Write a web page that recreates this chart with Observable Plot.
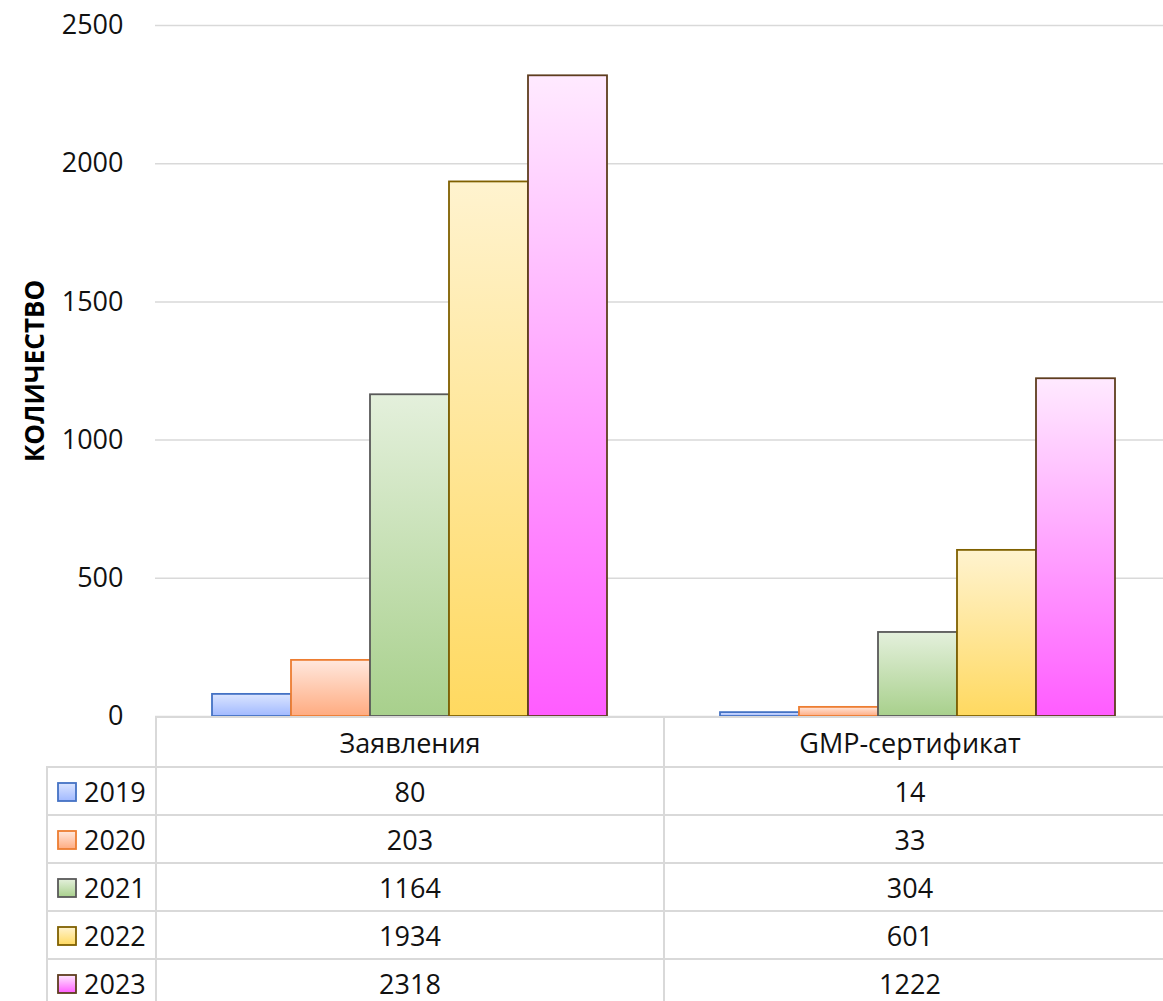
<!DOCTYPE html>
<html>
<head>
<meta charset="utf-8">
<script src="https://cdn.jsdelivr.net/npm/d3@7"></script>
<script src="https://cdn.jsdelivr.net/npm/@observablehq/plot@0.6"></script>
<style>
  html, body { margin: 0; padding: 0; background: #fff; overflow: hidden; }
  body { font-family: "Open Sans", sans-serif; width: 1163px; height: 1001px; position: relative; overflow: hidden; }
  #chart { position: absolute; left: 0; top: 0; }
  table.dt { position: absolute; left: 46px; top: 716px; border-collapse: collapse; table-layout: fixed; width: 1125px; }
  table.dt td { border: 2px solid #d9d9d9; padding: 0; text-align: center; font-size: 27px; color: #111; white-space: nowrap; }
  table.dt td.last { padding-right: 16px; }
  table.dt tr.head td { height: 48px; }
  table.dt tr.row td { height: 46px; }
  table.dt td.legend { text-align: left; padding-left: 9px; }
  table.dt td.legend svg { vertical-align: middle; margin-right: 7px; position: relative; top: -2px; }
  table.dt td.blank { border-top: none; border-left: none; }
</style>
</head>
<body>
<div id="chart"></div>
<script>
// ---- data ----
const categories = ["Заявления", "GMP-сертификат"];
const years = ["2019", "2020", "2021", "2022", "2023"];
const values2019 = [80, 14];
const values2020 = [203, 33];
const values2021 = [1164, 304];
const values2022 = [1934, 601];
const values2023 = [2318, 1222];
const yTicks = [0, 500, 1000, 1500, 2000, 2500];
const yLabel = "КОЛИЧЕСТВО";

const seriesValues = [values2019, values2020, values2021, values2022, values2023];
const data = years.flatMap((y, i) => categories.map((c, j) => ({year: y, category: c, value: seriesValues[i][j]})));

// ---- styles ----
const gradTop = {"2019": "#dbe5ff", "2020": "#ffe8de", "2021": "#e4f0dc", "2022": "#fff3cf", "2023": "#ffeaff"};
const gradBottom = {"2019": "#a1b9ff", "2020": "#ffab80", "2021": "#a8d08c", "2022": "#ffd960", "2023": "#ff5cff"};
const strokes = {"2019": "#4472c4", "2020": "#ed7d31", "2021": "#595959", "2022": "#7f6000", "2023": "#5e3d1f"};

const plot = Plot.plot({
  width: 1171,
  height: 717,
  marginLeft: 155,
  marginRight: 0,
  marginTop: 25,
  marginBottom: 1,
  style: {fontFamily: "Open Sans, sans-serif", fontSize: "27px", overflow: "visible", background: "transparent", maxWidth: "none"},
  fx: {domain: categories, padding: 0, axis: null, label: null},
  x: {domain: years, paddingInner: 0, paddingOuter: 0.715, axis: null},
  y: {domain: [0, 2500], axis: null},
  marks: [
    Plot.ruleY(yTicks, {stroke: "#d9d9d9", strokeWidth: 1.5}),
    ...years.map(y => Plot.barY(data.filter(d => d.year === y), {
      fx: "category", x: "year", y: "value",
      fill: `url(#grad${y})`, stroke: strokes[y], strokeWidth: 1.8
    })),
    Plot.axisY({ticks: yTicks, tickSize: 0, tickPadding: 32, fontSize: 27, fill: "#111", label: null, tickFormat: d => String(d)}),
    Plot.text([{c: categories[0]}], {
      fx: "c", frameAnchor: "left", text: () => yLabel, rotate: -90, dx: -120,
      textAnchor: "middle", lineAnchor: "middle", fontWeight: "bold", fontSize: 26, fill: "#000"
    })
  ]
});

// gradient defs
const svgSel = d3.select(plot);
const defs = svgSel.insert("defs", ":first-child");
years.forEach(y => {
  const g = defs.append("linearGradient").attr("id", `grad${y}`)
    .attr("x1", 0).attr("y1", 0).attr("x2", 0).attr("y2", 1);
  g.append("stop").attr("offset", "0%").attr("stop-color", gradTop[y]);
  g.append("stop").attr("offset", "100%").attr("stop-color", gradBottom[y]);
});
document.getElementById("chart").appendChild(plot);

// data table below the chart
const table = d3.select("body").append("table").attr("class", "dt");
const cg = table.append("colgroup");
[109, 508, 508].forEach(w => cg.append("col").style("width", w + "px"));
const head = table.append("tr").attr("class", "head");
head.append("td").attr("class", "blank");
categories.forEach((c, j) => head.append("td").attr("class", j === categories.length - 1 ? "last" : null).text(c));
years.forEach((y, i) => {
  const tr = table.append("tr").attr("class", "row");
  const lg = tr.append("td").attr("class", "legend");
  const s = lg.append("svg").attr("width", 20).attr("height", 20);
  s.append("rect").attr("x", 1).attr("y", 1).attr("width", 18).attr("height", 18)
    .attr("fill", `url(#grad${y})`).attr("stroke", strokes[y]).attr("stroke-width", 1.8);
  lg.append("span").text(y);
  seriesValues[i].forEach((v, j) => tr.append("td").attr("class", j === categories.length - 1 ? "last" : null).text(String(v)));
});
</script>
</body>
</html>
